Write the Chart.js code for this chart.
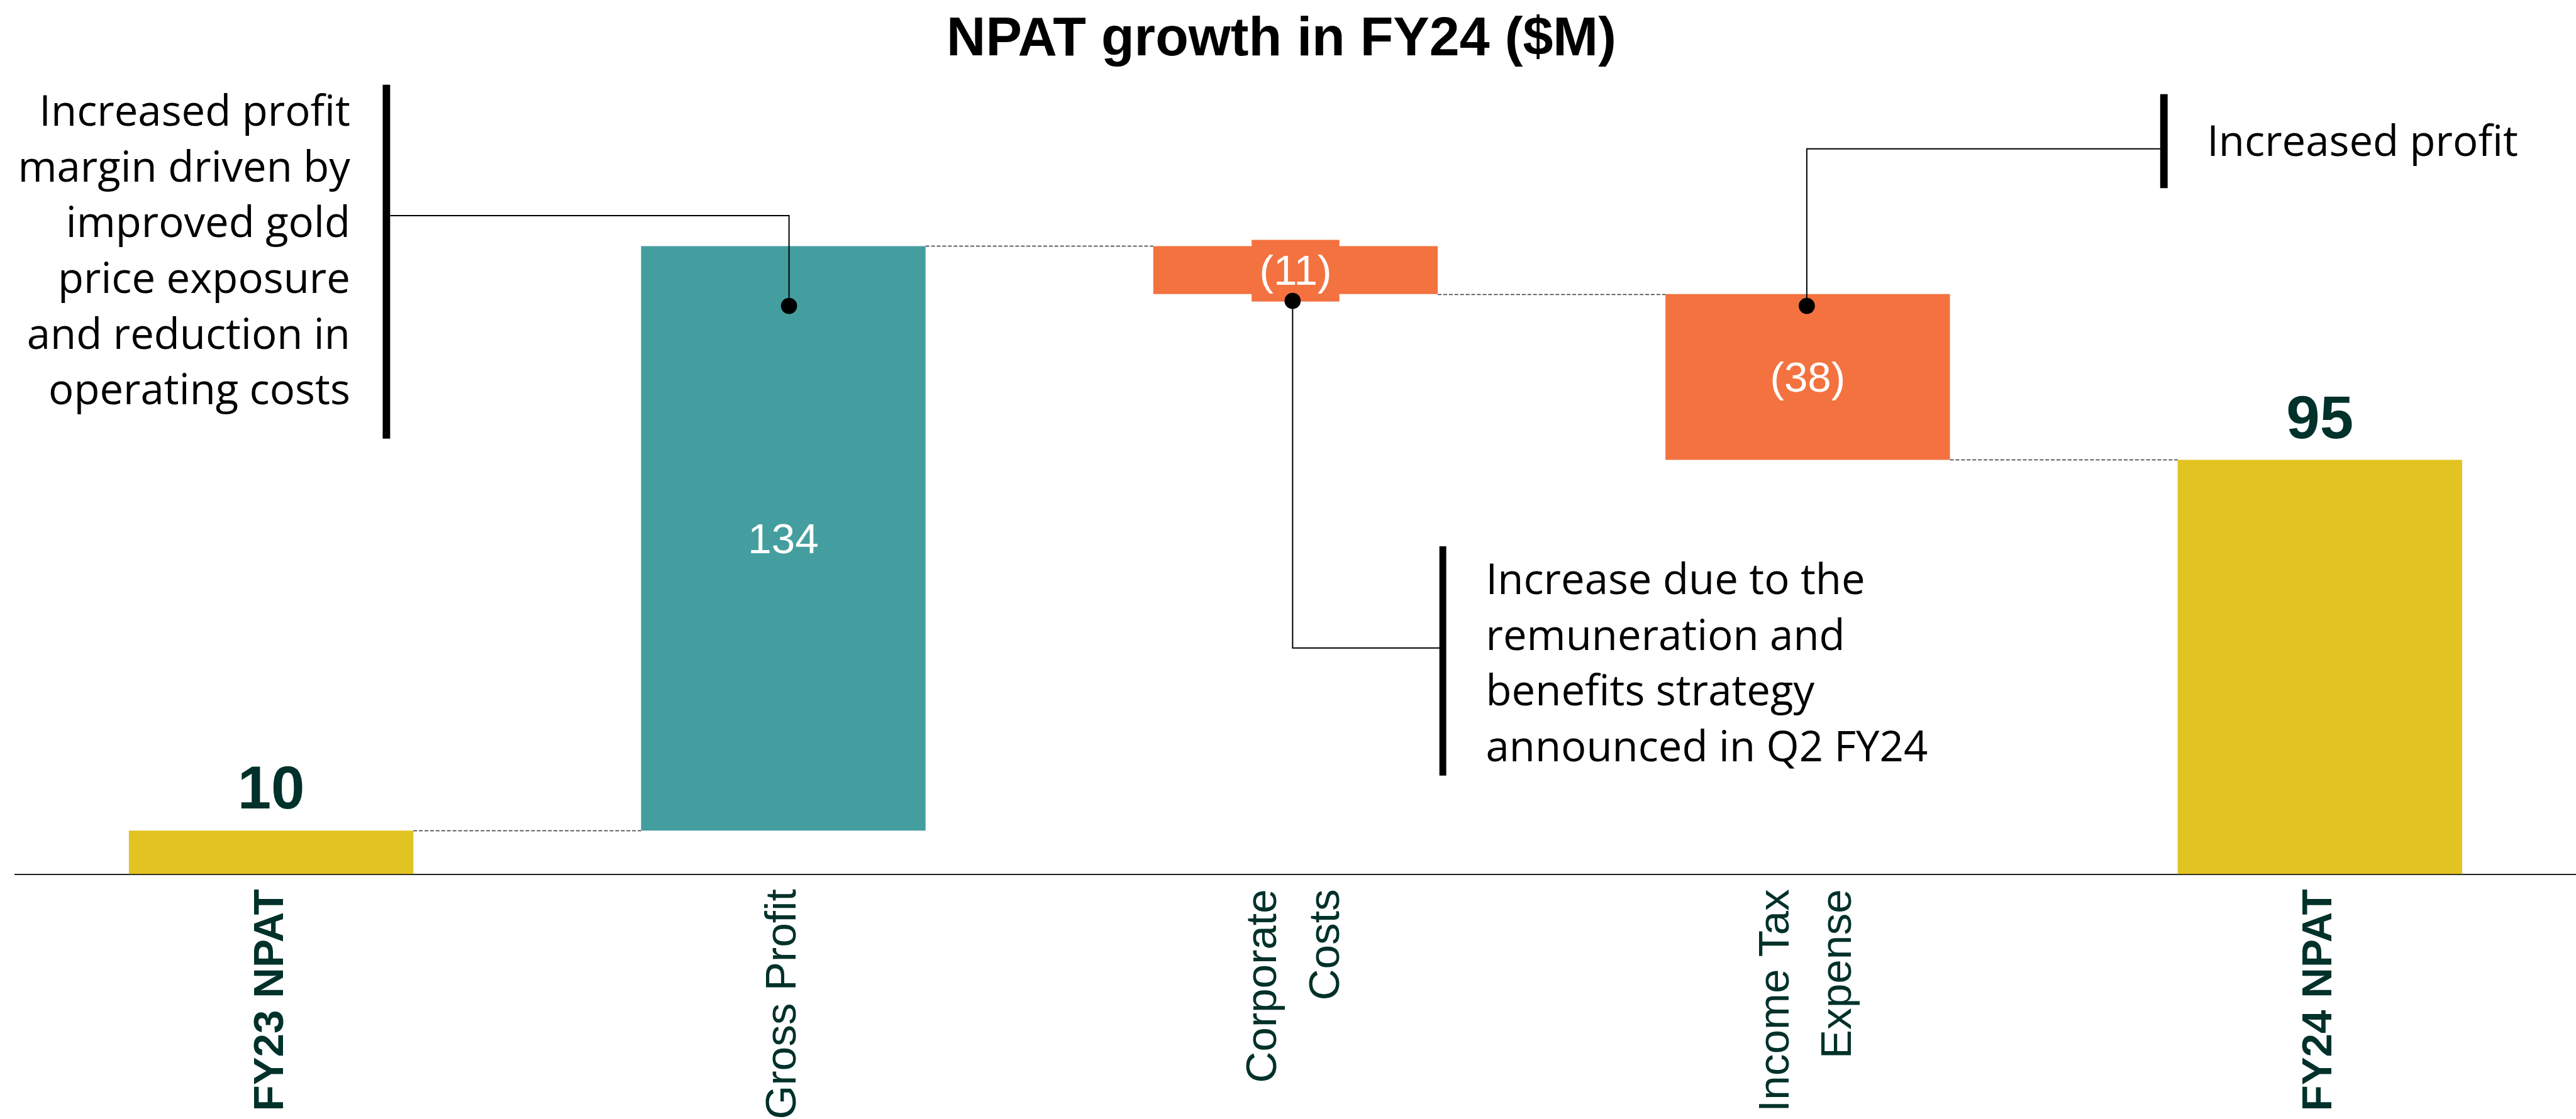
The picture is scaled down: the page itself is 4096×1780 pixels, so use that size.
<!DOCTYPE html>
<html>
<head>
<meta charset="utf-8">
<script src="https://cdn.jsdelivr.net/npm/chart.js@4.4.1/dist/chart.umd.min.js"></script>
<style>
  html, body { margin: 0; padding: 0; background: #ffffff; }
  #wrap { width: 4096px; height: 1780px; position: relative; }
</style>
</head>
<body>
<div id="wrap"><canvas id="c"></canvas></div>
<script>
// ---------- data ----------
const chartTitle = 'NPAT growth in FY24 ($M)';
const categories = ['FY23 NPAT', 'Gross Profit', ['Corporate', 'Costs'], ['Income Tax', 'Expense'], 'FY24 NPAT'];
const amounts = [10, 134, -11, -38, 95];
const kinds = ['total', 'delta', 'delta', 'delta', 'total'];
const valueLabels = ['10', '134', '(11)', '(38)', '95'];
const noteLeft = ['Increased profit', 'margin driven by', 'improved gold', 'price exposure', 'and reduction in', 'operating costs'];
const noteMiddle = ['Increase due to the', 'remuneration and', 'benefits strategy', 'announced in Q2 FY24'];
const noteRight = ['Increased profit'];

// ---------- derived floating ranges ----------
const ranges = [];
const levels = [];
let run = 0;
amounts.forEach((v, i) => {
  if (kinds[i] === 'total') { ranges.push([0, v]); run = v; }
  else { ranges.push([run, run + v]); run += v; }
  levels.push(run);
});

// ---------- styles ----------
const S = 0.991;
const C_TOTAL = '#E1C322', C_UP = '#449E9F', C_DOWN = '#F3723F';
const C_LABEL = '#00312A';
const barColors = amounts.map((v, i) => kinds[i] === 'total' ? C_TOTAL : (v >= 0 ? C_UP : C_DOWN));
const NOTE_FONT = 'Open Sans';

function P(v) { return v * S; }

const wfPlugin = {
  id: 'waterfallExtras',
  beforeDraw(chart) {
    // centre multi-line rotated tick labels on their tick
    const sc = chart.scales.x;
    const items = sc.getLabelItems();
    items.forEach(it => {
      if (Array.isArray(it.label) && !it._adj) {
        const lh = it.font.lineHeight;
        it.options.translation[0] -= (it.label.length - 1) * lh / 2;
        it._adj = true;
      }
    });
  },
  afterDatasetsDraw(chart) {
    const ctx = chart.ctx;
    const meta = chart.getDatasetMeta(0);
    const ys = chart.scales.y;
    ctx.save();
    // dashed connectors
    ctx.setLineDash([P(6), P(3)]);
    ctx.lineWidth = P(1.5);
    ctx.strokeStyle = '#333333';
    for (let i = 0; i < meta.data.length - 1; i++) {
      const a = meta.data[i], b = meta.data[i + 1];
      const y = Math.round(ys.getPixelForValue(levels[i])) + 0.5;
      ctx.beginPath();
      ctx.moveTo(a.x + a.width / 2, y);
      ctx.lineTo(b.x - b.width / 2, y);
      ctx.stroke();
    }
    ctx.setLineDash([]);
    // value labels
    meta.data.forEach((bar, i) => {
      const top = Math.min(bar.y, bar.base), bottom = Math.max(bar.y, bar.base);
      if (kinds[i] === 'total') {
        ctx.font = 'bold ' + P(97) + 'px "Liberation Sans", Arial, sans-serif';
        ctx.fillStyle = C_LABEL;
        ctx.textAlign = 'center';
        ctx.textBaseline = 'alphabetic';
        ctx.fillText(valueLabels[i], bar.x, top - P(35));
      } else {
        ctx.font = P(68) + 'px "Liberation Sans", Arial, sans-serif';
        const x = bar.x;
        const y = (top + bottom) / 2 + P(5);
        const w = ctx.measureText(valueLabels[i]).width + P(25);
        const h = P(99);
        ctx.fillStyle = barColors[i];
        ctx.fillRect(x - w / 2, y - h / 2 - P(4), w, h);
        ctx.fillStyle = '#ffffff';
        ctx.textAlign = 'center';
        ctx.textBaseline = 'middle';
        ctx.fillText(valueLabels[i], x, y);
      }
    });
    ctx.restore();
  },
  afterDraw(chart) {
    const ctx = chart.ctx;
    ctx.save();
    // title
    ctx.font = 'bold ' + P(87) + 'px "Liberation Sans", Arial, sans-serif';
    ctx.fillStyle = '#000000';
    ctx.textAlign = 'center';
    ctx.textBaseline = 'alphabetic';
    ctx.fillText(chartTitle, P(2056), P(89));

    // callout lines
    ctx.strokeStyle = '#000000';
    ctx.fillStyle = '#000000';
    function poly(pts, w) {
      ctx.lineWidth = P(w);
      ctx.beginPath();
      ctx.moveTo(P(pts[0][0]), P(pts[0][1]));
      for (let k = 1; k < pts.length; k++) ctx.lineTo(P(pts[k][0]), P(pts[k][1]));
      ctx.stroke();
    }
    function dot(x, y) {
      ctx.beginPath();
      ctx.arc(P(x), P(y), P(13), 0, Math.PI * 2);
      ctx.fill();
    }
    ctx.lineCap = 'butt';
    // left callout
    poly([[620, 136], [620, 704]], 12);
    poly([[626, 346], [1266, 346], [1266, 491]], 2);
    dot(1266, 491);
    // middle callout
    poly([[2315, 877], [2315, 1245]], 11);
    poly([[2074, 483], [2074, 1040], [2310, 1040]], 2);
    dot(2074, 483);
    // right callout
    poly([[3472, 151], [3472, 302]], 12);
    poly([[2899, 491], [2899, 239], [3466, 239]], 2);
    dot(2899, 491);

    // callout texts
    ctx.font = P(67.7) + 'px "' + NOTE_FONT + '", sans-serif';
    ctx.textBaseline = 'alphabetic';
    ctx.textAlign = 'right';
    noteLeft.forEach((t, k) => ctx.fillText(t, P(562), P(202 + 89.4 * k)));
    ctx.textAlign = 'left';
    noteMiddle.forEach((t, k) => ctx.fillText(t, P(2384), P(954 + 89.3 * k)));
    noteRight.forEach((t, k) => ctx.fillText(t, P(3541), P(250 + 89.3 * k)));
    ctx.restore();
  }
};

new Chart(document.getElementById('c'), {
  type: 'bar',
  data: {
    labels: categories,
    datasets: [{
      data: ranges,
      backgroundColor: barColors,
      borderWidth: 0,
      borderSkipped: false,
      barPercentage: 0.5554,
      categoryPercentage: 1.0
    }]
  },
  options: {
    responsive: true,
    maintainAspectRatio: false,
    animation: false,
    layout: { padding: { left: P(24.1), right: 4096 - P(4138.5), top: P(213), bottom: 0 } },
    plugins: {
      legend: { display: false },
      tooltip: { enabled: false },
      title: { display: false }
    },
    scales: {
      x: {
        offset: true,
        grid: { display: false, drawTicks: false },
        border: { display: true, color: '#222222', width: P(2) },
        ticks: {
          autoSkip: false,
          minRotation: 90,
          maxRotation: 90,
          padding: P(24),
          color: C_LABEL,
          font: (c) => {
            const bold = kinds[c.index] === 'total';
            return {
              family: '"Liberation Sans", Arial, sans-serif',
              size: P(bold ? 68 : 70),
              weight: bold ? 'bold' : 'normal',
              lineHeight: 1.43
            };
          }
        },
        afterFit: (s) => { s.height = P(393); }
      },
      y: { display: false, min: 0, max: 170 }
    }
  },
  plugins: [wfPlugin]
});
</script>
</body>
</html>
